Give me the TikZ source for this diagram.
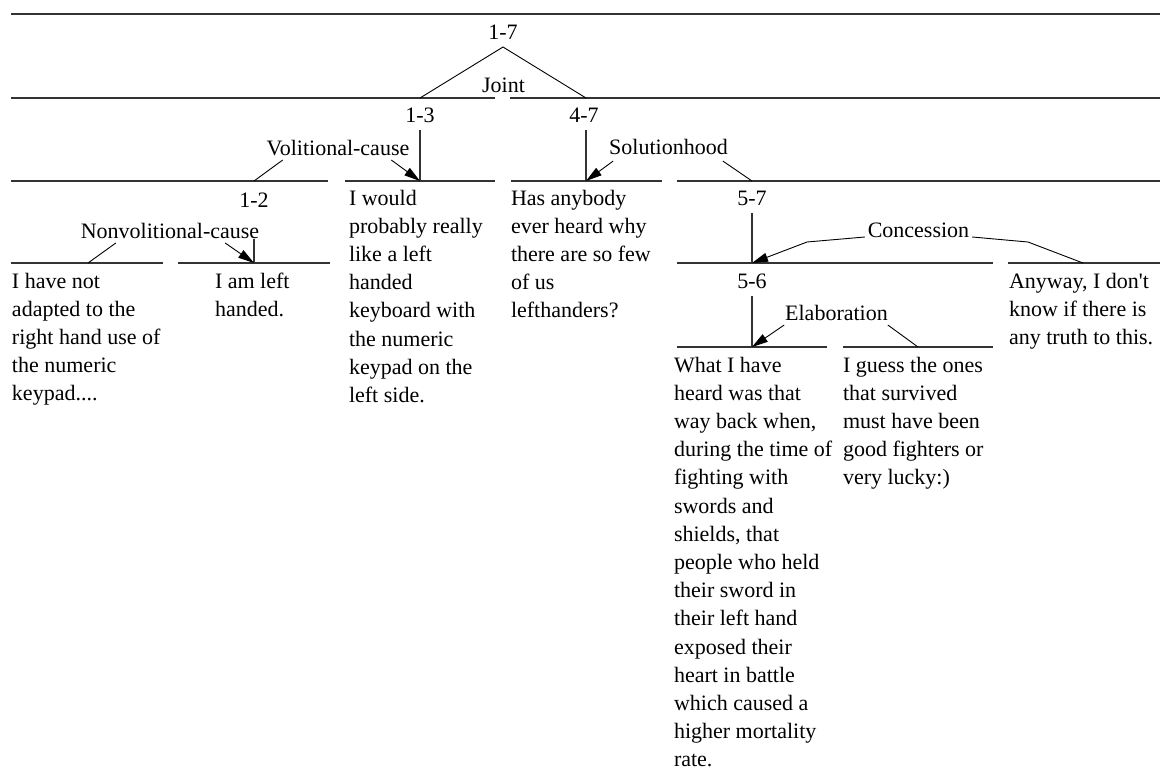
\documentclass[tikz,border=0pt]{standalone}
\usepackage{fontspec}
\setmainfont{Liberation Serif}
\usetikzlibrary{arrows.meta}
\begin{document}
\begin{tikzpicture}[x=1pt,y=-1pt,
  every node/.style={font=\fontsize{22}{28.2}\selectfont},
  span/.style={inner sep=0pt, outer sep=0pt, anchor=base, text depth=8pt},
  rel/.style={inner sep=0pt, outer sep=0pt, anchor=base, text depth=5pt},
  seg/.style={draw=black!80, line width=1.1pt},
  link/.style={line width=0.9pt},
  arr/.style={link, -{Triangle[length=16pt,width=9pt]}},
  para/.style={inner sep=0pt, outer sep=0pt, anchor=north west, align=left},
]
\useasboundingbox (0,0) rectangle (1160,774);

% span rulers of the tree levels
\draw[seg] (11,14) -- (1160,14);
\draw[seg] (11,98) -- (495,98) (510,98) -- (1160,98);
\draw[seg] (11,181) -- (328,181) (345,181) -- (495,181) (511,181) -- (662,181) (677,181) -- (1160,181);
\draw[seg] (11,263) -- (163,263) (178,263) -- (330,263) (677,263) -- (993,263) (1008,263) -- (1160,263);
\draw[seg] (677,347) -- (827,347) (843,347) -- (993,347);

% attachment points on the rulers
\coordinate (a13) at (420,98);
\coordinate (a47) at (586,98);
\coordinate (c13) at (420,181);
\coordinate (c47) at (586,181);
\coordinate (c12top) at (254,181);
\coordinate (c57top) at (752,181);
\coordinate (c12) at (254,263);
\coordinate (c1) at (88,263);
\coordinate (c57) at (752,263);
\coordinate (c7) at (1083,263);
\coordinate (c56) at (752,347);
\coordinate (c6) at (918,347);
\coordinate (k1) at (807,242);
\coordinate (k2) at (1028,242);

% span labels
\node[span] (n17) at (503,39) {1-7};
\node[span] (n13) at (420,122) {1-3};
\node[span] (n47) at (584,122) {4-7};
\node[span] (n12) at (254,207) {1-2};
\node[span] (n57) at (752,205) {5-7};
\node[span] (n56) at (752,288) {5-6};

% nucleus stems
\draw[seg] (n13.south) -- (c13);
\draw[seg] (n47.south -| c47) -- (c47);
\draw[seg] (n12.south) -- (c12);
\draw[seg] (n57.south) -- (c57);
\draw[seg] (n56.south) -- (c56);

% relation labels
\node[rel] (joint) at (503.5,92) {Joint};
\node[rel] (volc) at (338,155) {Volitional-cause};
\node[rel] (soln) at (668.5,154) {Solutionhood};
\node[rel, fill=white, text height=23pt, text depth=1pt] (nvc) at (170,238) {Nonvolitional-cause};
\node[rel] (conc) at (918.5,237) {Concession};
\node[rel] (elab) at (836.5,320) {Elaboration};

% relation links
\draw[link] (a13) -- (n17.south) -- (a47);
\draw[link] ([xshift=16pt]volc.south west) -- (c12top);
\draw[arr] ([xshift=-18pt]volc.south east) -- (c13);
\draw[arr] ([xshift=4pt,yshift=-2pt]soln.south west) -- (c47);
\draw[link] ([xshift=-5pt,yshift=-2pt]soln.south east) -- (c57top);
\draw[link] ([xshift=35pt,yshift=-4pt]nvc.south west) -- (c1);
\draw[arr] ([xshift=-34pt,yshift=-4pt]nvc.south east) -- (c12);
\draw[arr] ([xshift=-3pt]conc.base west) -- (k1) -- (c57);
\draw[link] ([xshift=3pt]conc.base east) -- (k2) -- (c7);
\draw[arr] ([xshift=-1pt]elab.south west) -- (c56);
\draw[link] (elab.south east) -- (c6);

% elementary discourse units
\node[para] (t1) at (12,268.3) {\strut I have not\\adapted to the\\right hand use of\\the numeric\\keypad....};
\node[para] (t2) at (215,268.3) {\strut I am left\\handed.};
\node[para] (t3) at (349,185.3) {\strut I would\\probably really\\like a left\\handed\\keyboard with\\the numeric\\keypad on the\\left side.};
\node[para] (t4) at (511,185.3) {\strut Has anybody\\ever heard why\\there are so few\\of us\\lefthanders?};
\node[para] (t5) at (674,352.3) {\strut What I have\\heard was that\\way back when,\\during the time of\\fighting with\\swords and\\shields, that\\people who held\\their sword in\\their left hand\\exposed their\\heart in battle\\which caused a\\higher mortality\\rate.};
\node[para] (t6) at (843,352.3) {\strut I guess the ones\\that survived\\must have been\\good fighters or\\very lucky:)};
\node[para] (t7) at (1009,268.3) {\strut Anyway, I don\textquotesingle t\\know if there is\\any truth to this.};
\end{tikzpicture}
\end{document}
